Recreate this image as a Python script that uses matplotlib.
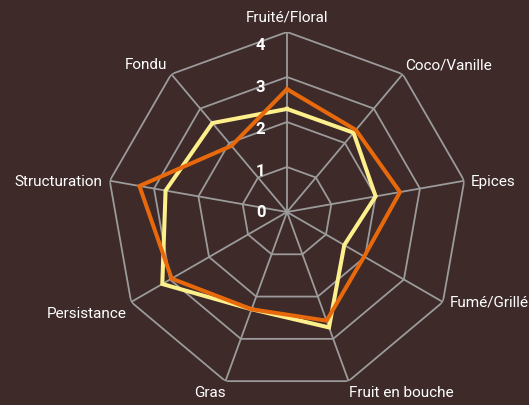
import numpy as np
import matplotlib
matplotlib.use("Agg")
import matplotlib.pyplot as plt

# axes, clockwise from the top
labels = ["Fruité/Floral", "Coco/Vanille", "Epices", "Fumé/Grillé", "Fruit en bouche",
          "Gras", "Persistance", "Structuration", "Fondu"]
orange_vals = [2.73, 2.38, 2.55, 1.98, 2.57, 2.30, 2.96, 3.33, 1.92]
yellow_vals = [2.29, 2.30, 2.00, 1.47, 2.73, 2.30, 3.20, 2.74, 2.58]
levels = [0, 1, 2, 3, 4]

BG = "#3d2a29"; GRID = "#9b9b9b"; ORANGE = "#e8690c"; YELLOW = "#fdf08c"
FONT = ["Roboto", "DejaVu Sans"]

n = len(labels)
theta = np.linspace(0, 2 * np.pi, n, endpoint=False)
tc = np.append(theta, theta[0])

fig = plt.figure(figsize=(5.29, 4.06), dpi=100, facecolor=BG)
ax = fig.add_axes([107 / 529, 13 / 406, 360 / 529, 360 / 406], projection="polar")
ax.set_facecolor(BG)
ax.set_theta_zero_location("N"); ax.set_theta_direction(-1)
ax.set_ylim(0, 4)
ax.grid(False); ax.spines["polar"].set_visible(False)
ax.set_xticks([]); ax.set_yticks([])
ax.patch.set_alpha(0)

# polygon grid + spokes
for lv in levels[1:]:
    ax.plot(tc, [lv] * (n + 1), color=GRID, lw=1.3, zorder=1)
for t in theta:
    ax.plot([t, t], [0, 4], color=GRID, lw=1.3, zorder=1)

ax.plot(tc, yellow_vals + yellow_vals[:1], color=YELLOW, lw=2.9, zorder=3, solid_joinstyle="miter")
ax.plot(tc, orange_vals + orange_vals[:1], color=ORANGE, lw=2.9, zorder=4, solid_joinstyle="miter")

# category labels at the outer vertices
place = [("center", "bottom", 0, 6), ("left", "bottom", 2, 2), ("left", "center", 5, 0),
         ("left", "center", 5, 0), ("left", "top", 0, -3), ("right", "top", 0, -3),
         ("right", "top", -3, -3), ("right", "center", -5, 0), ("right", "bottom", -3, 2)]
for t, lab, (ha, va, dx, dy) in zip(theta, labels, place):
    ax.annotate(lab, xy=(t, 4), xytext=(dx, dy), textcoords="offset points",
                ha=ha, va=va, color="white", fontsize=11, family=FONT,
                annotation_clip=False)

# radial level labels
for lv in levels:
    ax.annotate(str(lv), xy=(0, lv * 0.93), xytext=(-19, 0), textcoords="offset points",
                ha="center", va="center", color="white", fontsize=12,
                fontweight="bold", family=FONT, zorder=5)

fig.savefig("out.png", dpi=100, facecolor=BG)
